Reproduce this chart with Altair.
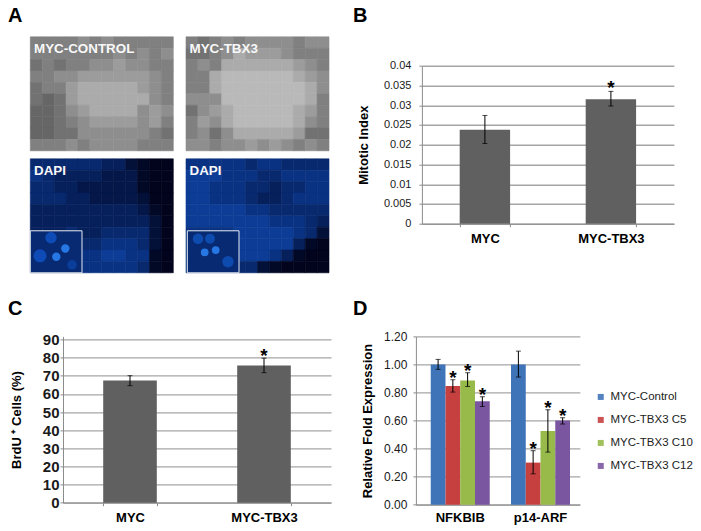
import altair as alt
import pandas as pd

FONT = "Liberation Sans"

# ---------- Panel B ----------
b_groups = ["MYC", "MYC-TBX3"]
b_values = [0.0238, 0.0315]
b_err_low = [0.0203, 0.0298]
b_err_high = [0.0274, 0.0335]
b_stars = ["", "*"]

# ---------- Panel C ----------
c_groups = ["MYC", "MYC-TBX3"]
c_values = [67.4, 75.8]
c_err_low = [64.6, 71.8]
c_err_high = [70.1, 79.8]
c_stars = ["", "*"]

# ---------- Panel D ----------
d_genes = ["NFKBIB", "p14-ARF"]
d_series = ["MYC-Control", "MYC-TBX3 C5", "MYC-TBX3 C10", "MYC-TBX3 C12"]
d_colors = ["#3f74b8", "#c64040", "#97ba4a", "#7a55a0"]
d_nfkbib = [1.00, 0.846, 0.886, 0.737]
d_nfkbib_low = [0.965, 0.803, 0.843, 0.70]
d_nfkbib_high = [1.036, 0.891, 0.941, 0.77]
d_p14 = [1.00, 0.30, 0.525, 0.60]
d_p14_low = [0.91, 0.22, 0.375, 0.575]
d_p14_high = [1.095, 0.385, 0.677, 0.62]
d_stars = ["", "*", "*", "*"]

# ---------- Panel A: coarse brightness ----------
a_phase_control = ["444454544444", "444444454545", "343445565544", "445566666654", "344677777654",
                   "323677777754", "223567777565", "223456666564", "223355555543", "444545555444"]
a_phase_tbx3 = ["434545555455", "334576665444", "454777777654", "447888888765", "447888888875",
                "555888888874", "356788888764", "465788888754", "453577777633", "554556565454"]
a_dapi_control = ["555555442100", "654444333100", "554433333100", "555443333200", "444444444310",
                  "444444444420", "444544555520", "444455666520", "444466776610", "444466666510"]
a_dapi_tbx3 = ["666665665555", "777666556666", "776665545566", "776665445666", "777776655555",
               "777777766654", "666677777652", "666677777410", "666677764100", "666655210000"]
a_gray = ["#4c4c4c", "#595959", "#666666", "#727272", "#808080", "#8e8e8e", "#9c9c9c", "#ababab", "#b9b9b9", "#c8c8c8"]
a_blue = ["#01041c", "#020926", "#031038", "#041748", "#06205c", "#08296e", "#0a3282", "#0c3c96", "#1050b8", "#1760d0"]
a_tile_x = [30.3, 186.0, 30.3, 186.0]
a_tile_y = [36.0, 36.0, 158.0, 158.0]
a_tile_w = 143.0
a_tile_h = 114.0
a_titles = ["MYC-CONTROL", "MYC-TBX3", "DAPI", "DAPI"]
a_title_x = [34, 189.5, 34, 189.5]
a_title_y = [52, 52, 174, 174]
a_inset_x = [30.3, 187.3]
a_inset_x2 = [82.0, 239.0]
a_inset_y = 230.0
a_inset_y2 = 272.0
a_blob_x = [65.3, 56.3, 51, 40, 72, 204.7, 215.7, 198, 228, 210]
a_blob_y = [247.7, 256, 237, 255, 264, 251.7, 249.3, 238, 261, 238]
a_blob_size = [70, 70, 130, 170, 90, 60, 60, 110, 130, 100]
a_blob_color = ["#2a7ff0", "#2a7ff0", "#0f4fbf", "#0f4fbf", "#0c3f9f",
                "#2a80f0", "#2a80f0", "#0f4fb5", "#0f4fb5", "#0f4fb5"]

cells = []
for t, (matrix, ramp) in enumerate(zip([a_phase_control, a_phase_tbx3, a_dapi_control, a_dapi_tbx3],
                                       [a_gray, a_gray, a_blue, a_blue])):
    rows, cols = len(matrix), len(matrix[0])
    cw, ch = a_tile_w / cols, a_tile_h / rows
    for r, line in enumerate(matrix):
        for c, v in enumerate(line):
            cells.append(dict(x=a_tile_x[t] + c * cw, x2=a_tile_x[t] + (c + 1) * cw,
                              y=a_tile_y[t] + r * ch, y2=a_tile_y[t] + (r + 1) * ch,
                              shade=ramp[int(v)]))
cells = pd.DataFrame(cells)
ax = alt.X("x:Q", axis=None, scale=alt.Scale(domain=[63, 331], nice=False, zero=False))
ay = alt.Y("y:Q", axis=None, scale=alt.Scale(domain=[271.2, 64.9], nice=False, zero=False))

mosaic = alt.Chart(cells).mark_rect(strokeWidth=0.6).encode(ax, ay, x2="x2:Q", y2="y2:Q",
                                                            color=alt.Color("shade:N", scale=None),
                                                            stroke=alt.Stroke("shade:N", scale=None))
inset_df = pd.DataFrame(dict(x=a_inset_x, x2=a_inset_x2, y=[a_inset_y] * 2, y2=[a_inset_y2] * 2))
inset_bg = alt.Chart(inset_df).mark_rect(fill="#072a72").encode(ax, ay, x2="x2:Q", y2="y2:Q")
blobs = alt.Chart(pd.DataFrame(dict(x=a_blob_x, y=a_blob_y, s=a_blob_size, c=a_blob_color))).mark_circle(opacity=0.9).encode(
    ax, ay, size=alt.Size("s:Q", scale=None), color=alt.Color("c:N", scale=None))
inset_fr = alt.Chart(inset_df).mark_rect(fill=None, stroke="#e8ecf2", strokeWidth=1).encode(ax, ay, x2="x2:Q", y2="y2:Q")
a_text = alt.Chart(pd.DataFrame(dict(x=a_title_x, y=a_title_y, t=a_titles))).mark_text(
    align="left", baseline="alphabetic", font=FONT, fontWeight="bold", fontSize=13.4, color="#f8f8f8"
).encode(ax, ay, text="t:N")


def letter(txt, x, y):
    return alt.Chart(pd.DataFrame(dict(t=[txt]))).mark_text(
        align="left", baseline="alphabetic", font=FONT, fontWeight="bold", fontSize=20, color="#000000"
    ).encode(x=alt.value(x), y=alt.value(y), text="t:N")


panel_a = alt.layer(mosaic, inset_bg, blobs, inset_fr, a_text, letter("A", -55, -43.4)).properties(width=268, height=206.3)

GRID = "#a6a6a6"


def simple_panel(groups, values, low, high, stars, dom, ticks, fmt, title, w, h, lab_size, lab_weight, lab_pad, title_pad, star_dy, let, lx, ly):
    df = pd.DataFrame(dict(g=groups, v=values, lo=low, hi=high, s=stars))
    x = alt.X("g:N", sort=groups, title=None,
              scale=alt.Scale(domain=groups, paddingInner=0.6, paddingOuter=0.3),
              axis=alt.Axis(labelAngle=0, labelFont=FONT, labelFontSize=13, labelFontWeight="bold", labelColor="#000000",
                            tickBand="extent", tickSize=3, tickColor="#8c8c8c", domainColor="#8c8c8c", labelPadding=6))
    scale = alt.Scale(domain=dom, nice=False)
    y_axis = alt.Axis(values=ticks, format=fmt, labelFont=FONT, labelFontSize=lab_size, labelFontWeight=lab_weight,
                      labelColor="#1a1a1a", labelOverlap=False, titleFont=FONT, titleFontSize=13, titleFontWeight="bold",
                      titleColor="#000000", grid=True, gridColor=GRID, gridWidth=1.4, domainColor="#8c8c8c",
                      tickColor="#8c8c8c", tickSize=3, labelPadding=lab_pad, titlePadding=title_pad)
    y = alt.Y("v:Q", title=title, scale=scale, axis=y_axis)
    ylo = alt.Y("lo:Q", title=title, scale=scale, axis=y_axis)
    yhi = alt.Y("hi:Q", title=title, scale=scale, axis=y_axis)
    bar = alt.Chart(df).mark_bar(color="#606060").encode(x, y)
    rule = alt.Chart(df).mark_rule(color="#000000", strokeWidth=1).encode(x, ylo, y2="hi:Q")
    cap1 = alt.Chart(df).mark_tick(color="#000000", size=5, thickness=1).encode(x, ylo)
    cap2 = alt.Chart(df).mark_tick(color="#000000", size=5, thickness=1).encode(x, yhi)
    star = alt.Chart(df).mark_text(font=FONT, fontWeight="bold", fontSize=19, dy=star_dy, color="#000000").encode(x, yhi, text="s:N")
    return alt.layer(bar, rule, cap1, cap2, star, letter(let, lx, ly)).properties(width=w, height=h)


panel_b = simple_panel(b_groups, b_values, b_err_low, b_err_high, b_stars, [0, 0.04],
                       [0, 0.005, 0.01, 0.015, 0.02, 0.025, 0.03, 0.035, 0.04], "~g", "Mitotic Index",
                       252, 158, 11, "normal", 8, 13, -3, "B", -69, -43.4)
panel_c = simple_panel(c_groups, c_values, c_err_low, c_err_high, c_stars, [0, 91.8],
                       [0, 10, 20, 30, 40, 50, 60, 70, 80, 90], "d", "BrdU \u207a Cells (%)",
                       268, 166.3, 15, "bold", 1, 19, -2, "C", -55, -21)

rows = []
for i, s in enumerate(d_series):
    rows.append(dict(g=d_genes[0], s=s, v=d_nfkbib[i], lo=d_nfkbib_low[i], hi=d_nfkbib_high[i], star=d_stars[i]))
    rows.append(dict(g=d_genes[1], s=s, v=d_p14[i], lo=d_p14_low[i], hi=d_p14_high[i], star=d_stars[i]))
d_df = pd.DataFrame(rows)
dx = alt.X("g:N", sort=d_genes, title=None,
           scale=alt.Scale(domain=d_genes, paddingInner=0.265, paddingOuter=0.154, align=0.6),
           axis=alt.Axis(labelAngle=0, labelFont=FONT, labelFontSize=13, labelFontWeight="bold", labelColor="#000000",
                         tickSize=0, domainColor="#8c8c8c", labelPadding=7))
dxo = alt.XOffset("s:N", sort=d_series, scale=alt.Scale(domain=d_series))
d_scale = alt.Scale(domain=[0, 1.2], nice=False)
d_axis = alt.Axis(values=[0, 0.2, 0.4, 0.6, 0.8, 1.0, 1.2], format=".2f", labelFont=FONT, labelFontSize=12,
                  labelColor="#1a1a1a", labelOverlap=False, titleFont=FONT, titleFontSize=13, titleFontWeight="bold", titleColor="#000000",
                  grid=True, gridColor=GRID, gridWidth=1.4, domainColor="#8c8c8c", tickColor="#8c8c8c", tickSize=3,
                  labelPadding=6, titlePadding=9.5)
d_title = "Relative Fold Expression"
dy = alt.Y("v:Q", title=d_title, scale=d_scale, axis=d_axis)
dlo = alt.Y("lo:Q", title=d_title, scale=d_scale, axis=d_axis)
dhi = alt.Y("hi:Q", title=d_title, scale=d_scale, axis=d_axis)
d_bar = alt.Chart(d_df).mark_bar().encode(
    dx, dxo, dy,
    color=alt.Color("s:N", sort=d_series, scale=alt.Scale(domain=d_series, range=d_colors),
                    legend=alt.Legend(title=None, orient="none", legendX=532, legendY=325.5, symbolType="square", symbolSize=36,
                                      symbolStrokeWidth=0, labelFont=FONT, labelFontSize=11.5, labelColor="#222222",
                                      rowPadding=10, labelOffset=4, padding=0)))
d_rule = alt.Chart(d_df).mark_rule(color="#000000", strokeWidth=1).encode(dx, dxo, dlo, y2="hi:Q")
d_cap1 = alt.Chart(d_df).mark_tick(color="#000000", size=5, thickness=1).encode(dx, dxo, dlo)
d_cap2 = alt.Chart(d_df).mark_tick(color="#000000", size=5, thickness=1).encode(dx, dxo, dhi)
d_star = alt.Chart(d_df).mark_text(font=FONT, fontWeight="bold", fontSize=19, dy=-2, color="#000000").encode(dx, dxo, dhi, text="star:N")
panel_d = alt.layer(d_bar, d_rule, d_cap1, d_cap2, d_star, letter("D", -63, -21)).properties(width=164, height=168.3)

top = alt.hconcat(panel_a, panel_b, spacing=21.9)
bottom = alt.hconcat(panel_c, panel_d, spacing=21.9)
chart = alt.vconcat(top, bottom, spacing=25.7).properties(
    padding={"left": 0, "top": -2.3, "right": 0, "bottom": 0.5}
).configure_view(stroke=None)

chart.save("out.html", embed_options={"renderer": "svg", "actions": False})
